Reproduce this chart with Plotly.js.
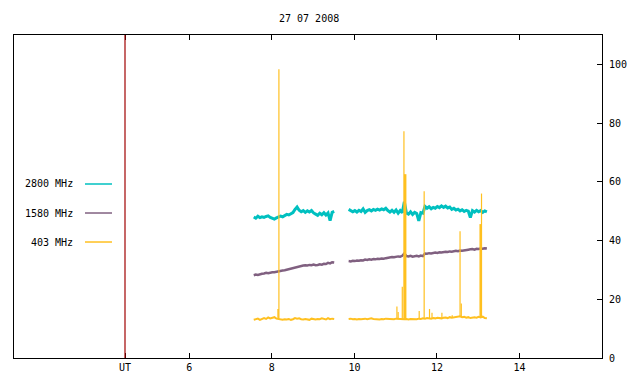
<!DOCTYPE html>
<html>
<head>
<meta charset="utf-8">
<script src="https://cdn.plot.ly/plotly-3.0.1.min.js"></script>
<style>html,body{margin:0;padding:0;background:#fff;}</style>
</head>
<body>
<div id="chart" style="width:640px;height:384px;"></div>
<script>
// ---- data ----
const chartTitle = "27 07 2008";
const seriesNames = ["2800 MHz", "1580 MHz", "403 MHz"];
const seriesColors = ["#00c0c0", "#806080", "#ffc020"];
const utLine = 4.44;
const xTickVals = [4.44, 6, 8, 10, 12, 14];
const xTickText = ["UT", "6", "8", "10", "12", "14"];
const yTickVals = [0, 20, 40, 60, 80, 100];

// sampling of the two observing segments (hours UT)
const seg1Start = 7.56, seg2Start = 9.86, sampleStep = 0.05;

const c2800_seg1 = [48.0,47.6,48.3,47.8,48.1,47.9,48.2,48.4,47.9,47.6,47.3,47.7,48.0,48.3,48.1,48.6,48.9,48.7,49.2,49.5,
  50.6,51.4,50.3,49.8,50.2,49.6,50.1,49.7,50.2,49.4,49.0,48.6,49.3,48.8,49.5,48.7,49.4,46.8,49.6,49.9];
const c2800_seg2 = [50.6,50.1,49.8,50.2,49.7,50.3,49.9,50.8,49.6,50.2,50.5,50.1,50.6,50.3,50.7,50.4,50.8,50.5,51.0,50.2,
  49.7,50.3,49.6,50.4,49.3,50.2,49.5,53.2,49.4,49.0,49.8,48.9,49.6,49.2,46.7,49.5,49.3,51.6,51.0,51.5,
  50.8,51.3,51.0,51.6,51.2,51.8,51.3,51.7,51.1,51.4,50.6,51.0,50.4,50.7,50.1,50.5,49.9,50.3,50.0,47.8,
  50.2,49.7,50.3,49.8,50.2,49.6,50.1,49.8];

const c1580_seg1 = [28.2,28.4,28.3,28.6,28.7,28.8,29.0,28.9,29.1,29.2,29.2,29.4,29.4,29.6,29.8,29.9,30.1,30.2,30.4,30.5,
  30.8,30.9,31.1,31.4,31.5,31.6,31.5,31.7,31.6,31.8,31.6,31.7,31.9,31.8,32.1,32.0,32.4,32.2,32.6,32.5];
const c1580_seg2 = [33.0,32.9,33.1,33.0,33.2,33.1,33.3,33.2,33.5,33.4,33.6,33.5,33.7,33.6,33.8,33.7,33.9,33.8,34.0,34.2,
  34.3,34.4,34.3,34.5,34.6,34.5,34.8,35.6,34.7,34.6,34.8,34.5,34.7,34.8,34.6,34.9,34.7,35.6,35.5,35.7,
  35.6,35.8,35.9,35.8,36.0,35.9,36.1,36.2,36.1,36.3,36.2,36.4,36.5,36.4,36.6,36.5,36.7,36.8,36.9,37.0,
  37.1,36.9,37.2,37.1,37.3,37.2,37.4,37.3];

const c403_seg1 = [13.0,13.1,13.4,13.0,13.2,13.6,13.3,13.8,13.5,13.6,13.9,13.4,13.3,13.1,13.0,13.2,13.1,13.3,13.0,13.2,
  13.6,13.4,13.5,13.2,13.1,13.3,13.2,13.0,13.4,13.2,13.1,13.3,13.2,13.5,13.3,13.1,13.6,13.2,13.4,13.3];
const c403_seg2 = [13.3,13.4,13.2,13.3,13.1,13.3,13.2,13.3,13.4,13.2,13.3,13.5,13.3,13.2,13.3,13.1,13.3,13.2,13.4,13.3,
  13.2,13.3,13.2,13.4,13.3,13.2,13.3,13.2,13.3,13.1,13.3,13.2,13.3,13.2,13.4,13.3,13.5,13.4,13.6,13.5,
  13.4,13.6,13.5,13.7,13.6,13.5,13.7,13.8,13.6,13.9,13.7,13.8,14.1,14.0,14.2,13.9,14.0,13.7,13.9,13.6,
  13.8,13.9,13.7,14.0,13.8,14.1,13.6,13.5];
// short bursts in the 403 MHz record: [hour, peak value]
const c403_spikes = [[8.15,16.7],[8.17,98.3],[11.03,17.5],[11.06,15.7],[11.16,24.3],[11.20,77.2],[11.23,62.6],
  [11.57,16.0],[11.69,56.8],[11.82,16.7],[11.88,15.4],[12.12,15.4],[12.37,14.6],[12.56,43.2],[12.59,18.6],
  [13.06,45.6],[13.08,56.0]];
const spikeWidths = [1.5,1.2,1.2,1.2,1.2,1.2,2.5,1.2,1.2,1.2,1.2,1.2,1.2,1.2,1.2,2.5,1.2];

// ---- build traces ----
function times(start, n){ const t=[]; for(let i=0;i<n;i++) t.push(+(start+i*sampleStep).toFixed(3)); return t; }
function joinSegs(v1, v2){
  const x = times(seg1Start, v1.length).concat([null], times(seg2Start, v2.length));
  const y = v1.concat([null], v2);
  return {x, y};
}
const d2800 = joinSegs(c2800_seg1, c2800_seg2);
const d1580 = joinSegs(c1580_seg1, c1580_seg2);
const d403 = joinSegs(c403_seg1, c403_seg2);

function baseAt(t){
  let best = null, bd = 1e9;
  d403.x.forEach((xx,i)=>{ if(xx!==null && Math.abs(xx-t)<bd){ bd=Math.abs(xx-t); best=d403.y[i]; } });
  return best;
}

const traces = [
  {x:d2800.x, y:d2800.y, mode:'lines', line:{color:seriesColors[0], width:3}, connectgaps:false},
  {x:d1580.x, y:d1580.y, mode:'lines', line:{color:seriesColors[1], width:2.5}, connectgaps:false},
  {x:d403.x, y:d403.y, mode:'lines', line:{color:seriesColors[2], width:2}, connectgaps:false}
];
c403_spikes.forEach((s,i)=>{
  traces.push({x:[s[0], s[0]], y:[baseAt(s[0]), s[1]], mode:'lines', line:{color:seriesColors[2], width:spikeWidths[i]}});
});

const font = {family:'"DejaVu Sans Mono", monospace', size:10, color:'#000'};
const legendY = [0.5387, 0.4489, 0.3591];
const annotations = seriesNames.map((n,i)=>({xref:'paper', yref:'paper', x:0.1037, y:legendY[i], xanchor:'right', yanchor:'middle', text:n, showarrow:false, font:font}));
const shapes = seriesNames.map((n,i)=>({type:'line', xref:'paper', yref:'paper', x0:0.1207, x1:0.1667, y0:legendY[i], y1:legendY[i], line:{color:seriesColors[i], width:1.5}}));
shapes.push({type:'line', xref:'x', yref:'paper', x0:utLine, x1:utLine, y0:0, y1:1, line:{color:'#a00000', width:1.2}});

const layout = {
  width:640, height:384,
  margin:{l:14, r:38, t:35, b:26, pad:0},
  paper_bgcolor:'#fff', plot_bgcolor:'#fff',
  showlegend:false,
  font:font,
  title:{text:chartTitle, font:font, x:0.483, xanchor:'center', y:0.953, yanchor:'middle'},
  xaxis:{range:[1.75,16], tickvals:xTickVals, ticktext:xTickText, ticks:'inside', ticklen:5, tickcolor:'#000',
    showline:true, linecolor:'#000', linewidth:1, mirror:'ticks', showgrid:false, zeroline:false, tickfont:font},
  yaxis:{range:[0,110], side:'right', tickvals:yTickVals, ticks:'inside', ticklen:5, tickcolor:'#000',
    showline:true, linecolor:'#000', linewidth:1, mirror:true, showgrid:false, zeroline:false, tickfont:font, ticklabelstandoff:4},
  annotations:annotations, shapes:shapes
};
Plotly.newPlot('chart', traces, layout, {displayModeBar:false, staticPlot:true});
</script>
</body>
</html>
